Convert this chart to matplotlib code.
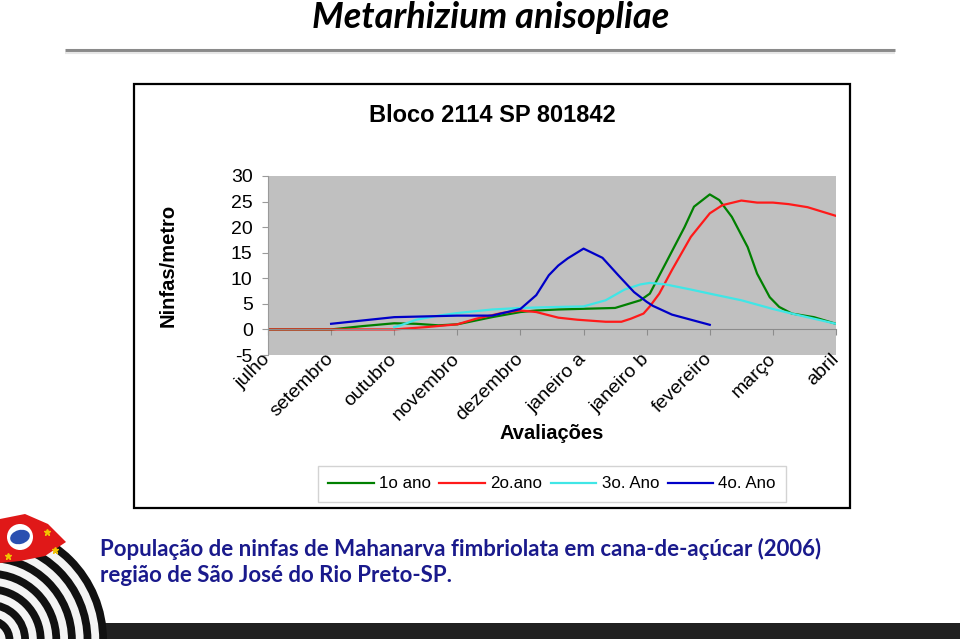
import matplotlib
matplotlib.use("Agg")
import matplotlib.pyplot as plt
from matplotlib.patches import Rectangle, Wedge, Polygon, Circle, Ellipse

plt.rcParams["axes.unicode_minus"] = False

# Avaliações (categorias do eixo x)
meses = ["julho", "setembro", "outubro", "novembro", "dezembro",
         "janeiro a", "janeiro b", "fevereiro", "março", "abril"]

# 1o ano
x_1o = [0, 1, 1.5, 2, 2.35, 2.7, 3, 3.55, 4, 4.25, 4.6, 5.5, 5.9, 6.05, 6.3,
        6.6, 6.75, 7, 7.15, 7.35, 7.6, 7.75, 7.95, 8.1, 8.3, 8.65, 9]
y_1o = [0, 0, 0.65, 1.2, 1.1, 0.8, 1.0, 2.4, 3.4, 3.7, 3.9, 4.2, 5.7, 7.0, 12.9,
        20.0, 24.0, 26.4, 25.3, 22.0, 16.1, 10.9, 6.3, 4.4, 3.1, 2.4, 1.1]

# 2o.ano
x_2o = [0, 2, 2.5, 3, 3.3, 3.7, 4, 4.25, 4.6, 4.9, 5.35, 5.6, 5.75, 5.95, 6.05,
        6.2, 6.4, 6.7, 7, 7.2, 7.5, 7.75, 8, 8.25, 8.55, 9]
y_2o = [0, 0, 0.45, 1.0, 2.1, 3.2, 3.7, 3.4, 2.3, 1.9, 1.5, 1.5, 2.1, 3.1, 4.5,
        7.0, 11.6, 18.1, 22.7, 24.3, 25.2, 24.8, 24.8, 24.5, 23.9, 22.2]

# 3o. Ano
x_3o = [2, 2.1, 2.35, 2.7, 3, 3.55, 4, 4.6, 5, 5.35, 5.65, 5.9, 6.05, 6.3, 6.7,
        7, 7.5, 8, 8.3, 9]
y_3o = [0.45, 0.8, 1.9, 2.7, 3.2, 3.9, 4.2, 4.4, 4.5, 5.7, 7.8, 8.8, 9.1, 8.8, 7.8,
        7.0, 5.7, 4.0, 3.1, 1.1]

# 4o. Ano
x_4o = [1, 2, 3, 3.55, 4, 4.25, 4.45, 4.6, 4.75, 5, 5.3, 5.55, 5.8, 6, 6.1,
        6.4, 6.7, 7]
y_4o = [1.1, 2.4, 2.7, 2.7, 4.0, 6.7, 10.6, 12.5, 13.9, 15.8, 14.0, 10.6, 7.3,
        5.4, 4.6, 2.9, 1.9, 0.9]

series = [
    (x_1o, y_1o, "1o ano", "#008000"),
    (x_2o, y_2o, "2o.ano", "#ff1a1a"),
    (x_3o, y_3o, "3o. Ano", "#40e6e6"),
    (x_4o, y_4o, "4o. Ano", "#0000c8"),
]

fig = plt.figure(figsize=(9.6, 6.39), dpi=100)

# camada de decoração do slide, em pixels
deco = fig.add_axes([0, 0, 1, 1])
deco.set_xlim(0, 960)
deco.set_ylim(639, 0)
deco.axis("off")

deco.plot([65, 895], [50, 50], color="#8a8a8a", lw=2.2, solid_capstyle="butt")
deco.plot([65, 895], [53, 53], color="#e6e6e6", lw=1.5, solid_capstyle="butt")
deco.add_patch(Rectangle((134, 84), 716, 424, fill=False, ec="black", lw=1.6))
deco.add_patch(Rectangle((0, 623), 960, 16, color="#202020", lw=0))

# logo (bandeira de SP, aproximada)
for i in range(15, 0, -1):
    cor = "#111111" if i % 2 else "#f4f4f4"
    deco.add_patch(Wedge((-10, 640), i * 7.8, 270, 360, color=cor, lw=0))
deco.add_patch(Polygon([(0, 519), (25, 514), (48, 524), (66, 542), (45, 556),
                        (20, 561), (0, 563)], closed=True, color="#e01818", lw=0))
deco.add_patch(Circle((20, 537), 13, color="white", lw=0))
deco.add_patch(Ellipse((20, 537), 20, 14, angle=-15, color="#2a4fb0", lw=0))
deco.plot([47, 8, 55], [532, 556, 550], ls="none", marker="*", ms=5, color="#f2c200")

fig.text(0.511, 1 - 28 / 639, "Metarhizium anisopliae", ha="center", va="baseline",
         fontsize=26, fontweight="bold", style="italic", family="Lato")

fig.text(0.513, 0.82, "Bloco 2114 SP 801842", ha="center", va="center",
         fontsize=17, fontweight="bold", family="Liberation Sans")

fig.text(0.175, 0.585, "Ninfas/metro", ha="center", va="center", rotation=90,
         fontsize=14.5, fontweight="bold", family="Liberation Sans")

fig.text(0.575, 0.322, "Avaliações", ha="center", va="center",
         fontsize=14.5, fontweight="bold", family="Liberation Sans")

cap = "População de ninfas de Mahanarva fimbriolata em cana-de-açúcar (2006)\nregião de São José do Rio Preto-SP."
fig.text(0.104, 0.120, cap, ha="left", va="center", fontsize=16,
         fontweight="bold", family="Lato", color="#1a1a8c", linespacing=1.3)

# gráfico
ax = fig.add_axes([268 / 960, 1 - 355 / 639, 568 / 960, 179 / 639])
ax.set_facecolor("#c0c0c0")
for x, y, nome, cor in series:
    ax.plot(x, y, color=cor, lw=1.6, label=nome)

ax.set_xlim(0, 9)
ax.set_ylim(-5, 30)
ax.set_yticks(range(-5, 31, 5))
ax.tick_params(axis="y", direction="out", length=4, color="#9a9a9a",
               labelsize=14, pad=7)
for lab in ax.get_yticklabels():
    lab.set_family("Liberation Sans")

for s in ["top", "right"]:
    ax.spines[s].set_visible(False)
ax.spines["left"].set_color("#9a9a9a")
ax.spines["bottom"].set_position(("data", 0))
ax.spines["bottom"].set_color("#8c8c8c")
ax.set_xticks(range(len(meses)))
ax.tick_params(axis="x", direction="out", length=4, color="#8c8c8c",
               labelbottom=False)

sec = ax.secondary_xaxis("bottom")
sec.set_xticks(range(len(meses)))
sec.set_xticklabels(meses, rotation=45, ha="right", va="center",
                    rotation_mode="anchor", fontsize=14, family="Liberation Sans")
sec.tick_params(length=0, pad=1)
sec.spines["bottom"].set_visible(False)

fig.legend(loc="center", bbox_to_anchor=(0.575, 0.2426), ncol=4, frameon=True,
           fancybox=False, edgecolor="#c8c8c8",
           prop={"family": "Liberation Sans", "size": 12.2},
           handlelength=2.7, handletextpad=0.3, columnspacing=0.5,
           borderpad=0.6)

fig.savefig("out.png", dpi=100)
